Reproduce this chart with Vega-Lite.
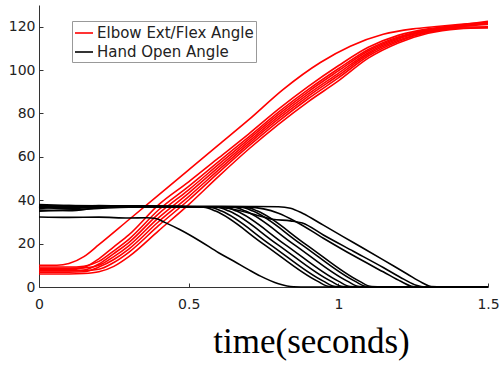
{
  "$schema": "https://vega.github.io/schema/vega-lite/v6.json",
  "width": 449,
  "height": 282,
  "autosize": "none",
  "padding": {"left": 39, "top": 5, "right": 12, "bottom": 82},
  "background": "white",
  "config": {
    "view": {"stroke": null},
    "axis": {"grid": false, "domainColor": "#333", "tickColor": "#333", "labelColor": "#222", "labelFont": "DejaVu Sans", "labelFontSize": 14, "tickSize": -4, "labelFlush": false, "labelOverlap": false},
    "legend": {"orient": "none", "legendX": 33, "legendY": 16, "strokeColor": "#999", "fillColor": "white", "padding": 2, "symbolType": "stroke", "symbolSize": 324, "symbolStrokeWidth": 1.6, "labelFontSize": 15, "labelFont": "DejaVu Sans", "labelColor": "#222", "rowPadding": 1, "labelOffset": 3}
  },
  "data": {"values": [
    {"s":"Elbow Ext/Flex Angle","c":"L","t":0,"v":10},{"s":"Elbow Ext/Flex Angle","c":"L","t":0.06,"v":10},{"s":"Elbow Ext/Flex Angle","c":"L","t":0.1,"v":10.8},{"s":"Elbow Ext/Flex Angle","c":"L","t":0.15,"v":14},{"s":"Elbow Ext/Flex Angle","c":"L","t":0.2,"v":19.5},{"s":"Elbow Ext/Flex Angle","c":"L","t":0.3,"v":31},{"s":"Elbow Ext/Flex Angle","c":"L","t":0.4,"v":42.5},{"s":"Elbow Ext/Flex Angle","c":"L","t":0.5,"v":54},{"s":"Elbow Ext/Flex Angle","c":"L","t":0.6,"v":65.5},{"s":"Elbow Ext/Flex Angle","c":"L","t":0.7,"v":77},{"s":"Elbow Ext/Flex Angle","c":"L","t":0.815,"v":91},{"s":"Elbow Ext/Flex Angle","c":"L","t":0.94,"v":103.5},{"s":"Elbow Ext/Flex Angle","c":"L","t":1.04,"v":111},{"s":"Elbow Ext/Flex Angle","c":"L","t":1.15,"v":116.5},{"s":"Elbow Ext/Flex Angle","c":"L","t":1.25,"v":119},{"s":"Elbow Ext/Flex Angle","c":"L","t":1.32,"v":120},{"s":"Elbow Ext/Flex Angle","c":"L","t":1.4,"v":121},{"s":"Elbow Ext/Flex Angle","c":"L","t":1.5,"v":122},

    {"s":"Elbow Ext/Flex Angle","c":"F","t":0,"v":8},{"s":"Elbow Ext/Flex Angle","c":"F","t":0.1,"v":8},{"s":"Elbow Ext/Flex Angle","c":"F","t":0.15,"v":9},{"s":"Elbow Ext/Flex Angle","c":"F","t":0.2,"v":13},{"s":"Elbow Ext/Flex Angle","c":"F","t":0.25,"v":18.5},{"s":"Elbow Ext/Flex Angle","c":"F","t":0.3,"v":24},{"s":"Elbow Ext/Flex Angle","c":"F","t":0.4,"v":38},{"s":"Elbow Ext/Flex Angle","c":"F","t":0.5,"v":48.5},{"s":"Elbow Ext/Flex Angle","c":"F","t":0.6,"v":59.5},{"s":"Elbow Ext/Flex Angle","c":"F","t":0.7,"v":70.5},{"s":"Elbow Ext/Flex Angle","c":"F","t":0.8,"v":82},{"s":"Elbow Ext/Flex Angle","c":"F","t":0.9,"v":92.5},{"s":"Elbow Ext/Flex Angle","c":"F","t":1.0,"v":102},{"s":"Elbow Ext/Flex Angle","c":"F","t":1.1,"v":110.5},{"s":"Elbow Ext/Flex Angle","c":"F","t":1.2,"v":116},{"s":"Elbow Ext/Flex Angle","c":"F","t":1.3,"v":119},{"s":"Elbow Ext/Flex Angle","c":"F","t":1.4,"v":120.5},{"s":"Elbow Ext/Flex Angle","c":"F","t":1.5,"v":121.5},

    {"s":"Elbow Ext/Flex Angle","c":"c1","t":0,"v":9.2},{"s":"Elbow Ext/Flex Angle","c":"c1","t":0.1,"v":9.2},{"s":"Elbow Ext/Flex Angle","c":"c1","t":0.15,"v":9.6},{"s":"Elbow Ext/Flex Angle","c":"c1","t":0.2,"v":11.8},{"s":"Elbow Ext/Flex Angle","c":"c1","t":0.25,"v":16.7},{"s":"Elbow Ext/Flex Angle","c":"c1","t":0.3,"v":22},{"s":"Elbow Ext/Flex Angle","c":"c1","t":0.4,"v":35.6},{"s":"Elbow Ext/Flex Angle","c":"c1","t":0.5,"v":46.4},{"s":"Elbow Ext/Flex Angle","c":"c1","t":0.6,"v":57.8},{"s":"Elbow Ext/Flex Angle","c":"c1","t":0.7,"v":69.1},{"s":"Elbow Ext/Flex Angle","c":"c1","t":0.8,"v":80.6},{"s":"Elbow Ext/Flex Angle","c":"c1","t":0.9,"v":91.1},{"s":"Elbow Ext/Flex Angle","c":"c1","t":1.0,"v":100.6},{"s":"Elbow Ext/Flex Angle","c":"c1","t":1.1,"v":109.5},{"s":"Elbow Ext/Flex Angle","c":"c1","t":1.2,"v":115.3},{"s":"Elbow Ext/Flex Angle","c":"c1","t":1.3,"v":118.6},{"s":"Elbow Ext/Flex Angle","c":"c1","t":1.4,"v":120.6},{"s":"Elbow Ext/Flex Angle","c":"c1","t":1.5,"v":122.5},

    {"s":"Elbow Ext/Flex Angle","c":"c2","t":0,"v":7.4},{"s":"Elbow Ext/Flex Angle","c":"c2","t":0.1,"v":7.4},{"s":"Elbow Ext/Flex Angle","c":"c2","t":0.15,"v":7.8},{"s":"Elbow Ext/Flex Angle","c":"c2","t":0.2,"v":10.6},{"s":"Elbow Ext/Flex Angle","c":"c2","t":0.25,"v":15.4},{"s":"Elbow Ext/Flex Angle","c":"c2","t":0.3,"v":20.5},{"s":"Elbow Ext/Flex Angle","c":"c2","t":0.4,"v":33.8},{"s":"Elbow Ext/Flex Angle","c":"c2","t":0.5,"v":44.8},{"s":"Elbow Ext/Flex Angle","c":"c2","t":0.6,"v":56.5},{"s":"Elbow Ext/Flex Angle","c":"c2","t":0.7,"v":68.1},{"s":"Elbow Ext/Flex Angle","c":"c2","t":0.8,"v":79.6},{"s":"Elbow Ext/Flex Angle","c":"c2","t":0.9,"v":90.1},{"s":"Elbow Ext/Flex Angle","c":"c2","t":1.0,"v":99.6},{"s":"Elbow Ext/Flex Angle","c":"c2","t":1.1,"v":108.8},{"s":"Elbow Ext/Flex Angle","c":"c2","t":1.2,"v":114.8},{"s":"Elbow Ext/Flex Angle","c":"c2","t":1.3,"v":118.3},{"s":"Elbow Ext/Flex Angle","c":"c2","t":1.4,"v":120},{"s":"Elbow Ext/Flex Angle","c":"c2","t":1.5,"v":121},

    {"s":"Elbow Ext/Flex Angle","c":"c3","t":0,"v":8.6},{"s":"Elbow Ext/Flex Angle","c":"c3","t":0.1,"v":8.6},{"s":"Elbow Ext/Flex Angle","c":"c3","t":0.15,"v":8.8},{"s":"Elbow Ext/Flex Angle","c":"c3","t":0.2,"v":10},{"s":"Elbow Ext/Flex Angle","c":"c3","t":0.25,"v":14},{"s":"Elbow Ext/Flex Angle","c":"c3","t":0.3,"v":19},{"s":"Elbow Ext/Flex Angle","c":"c3","t":0.4,"v":32},{"s":"Elbow Ext/Flex Angle","c":"c3","t":0.5,"v":43.3},{"s":"Elbow Ext/Flex Angle","c":"c3","t":0.6,"v":55.3},{"s":"Elbow Ext/Flex Angle","c":"c3","t":0.7,"v":67},{"s":"Elbow Ext/Flex Angle","c":"c3","t":0.8,"v":78.5},{"s":"Elbow Ext/Flex Angle","c":"c3","t":0.9,"v":89},{"s":"Elbow Ext/Flex Angle","c":"c3","t":1.0,"v":98.5},{"s":"Elbow Ext/Flex Angle","c":"c3","t":1.1,"v":108},{"s":"Elbow Ext/Flex Angle","c":"c3","t":1.2,"v":114.3},{"s":"Elbow Ext/Flex Angle","c":"c3","t":1.3,"v":118},{"s":"Elbow Ext/Flex Angle","c":"c3","t":1.4,"v":119.8},{"s":"Elbow Ext/Flex Angle","c":"c3","t":1.5,"v":120},

    {"s":"Elbow Ext/Flex Angle","c":"c4","t":0,"v":6.8},{"s":"Elbow Ext/Flex Angle","c":"c4","t":0.1,"v":6.8},{"s":"Elbow Ext/Flex Angle","c":"c4","t":0.15,"v":7},{"s":"Elbow Ext/Flex Angle","c":"c4","t":0.2,"v":9.2},{"s":"Elbow Ext/Flex Angle","c":"c4","t":0.25,"v":12.7},{"s":"Elbow Ext/Flex Angle","c":"c4","t":0.3,"v":17.5},{"s":"Elbow Ext/Flex Angle","c":"c4","t":0.4,"v":30.2},{"s":"Elbow Ext/Flex Angle","c":"c4","t":0.5,"v":41.7},{"s":"Elbow Ext/Flex Angle","c":"c4","t":0.6,"v":54},{"s":"Elbow Ext/Flex Angle","c":"c4","t":0.7,"v":66},{"s":"Elbow Ext/Flex Angle","c":"c4","t":0.8,"v":77.5},{"s":"Elbow Ext/Flex Angle","c":"c4","t":0.9,"v":88},{"s":"Elbow Ext/Flex Angle","c":"c4","t":1.0,"v":97.5},{"s":"Elbow Ext/Flex Angle","c":"c4","t":1.1,"v":107.3},{"s":"Elbow Ext/Flex Angle","c":"c4","t":1.2,"v":113.7},{"s":"Elbow Ext/Flex Angle","c":"c4","t":1.3,"v":117.7},{"s":"Elbow Ext/Flex Angle","c":"c4","t":1.4,"v":120},{"s":"Elbow Ext/Flex Angle","c":"c4","t":1.5,"v":121.5},

    {"s":"Elbow Ext/Flex Angle","c":"c5","t":0,"v":7.6},{"s":"Elbow Ext/Flex Angle","c":"c5","t":0.1,"v":7.6},{"s":"Elbow Ext/Flex Angle","c":"c5","t":0.15,"v":7.6},{"s":"Elbow Ext/Flex Angle","c":"c5","t":0.2,"v":8.2},{"s":"Elbow Ext/Flex Angle","c":"c5","t":0.25,"v":11.3},{"s":"Elbow Ext/Flex Angle","c":"c5","t":0.3,"v":16},{"s":"Elbow Ext/Flex Angle","c":"c5","t":0.4,"v":28.4},{"s":"Elbow Ext/Flex Angle","c":"c5","t":0.5,"v":40.1},{"s":"Elbow Ext/Flex Angle","c":"c5","t":0.6,"v":52.7},{"s":"Elbow Ext/Flex Angle","c":"c5","t":0.7,"v":64.9},{"s":"Elbow Ext/Flex Angle","c":"c5","t":0.8,"v":76.4},{"s":"Elbow Ext/Flex Angle","c":"c5","t":0.9,"v":86.9},{"s":"Elbow Ext/Flex Angle","c":"c5","t":1.0,"v":96.4},{"s":"Elbow Ext/Flex Angle","c":"c5","t":1.1,"v":106.5},{"s":"Elbow Ext/Flex Angle","c":"c5","t":1.2,"v":113.2},{"s":"Elbow Ext/Flex Angle","c":"c5","t":1.3,"v":117.4},{"s":"Elbow Ext/Flex Angle","c":"c5","t":1.4,"v":119.3},{"s":"Elbow Ext/Flex Angle","c":"c5","t":1.5,"v":119.5},

    {"s":"Elbow Ext/Flex Angle","c":"B","t":0,"v":6},{"s":"Elbow Ext/Flex Angle","c":"B","t":0.1,"v":6},{"s":"Elbow Ext/Flex Angle","c":"B","t":0.15,"v":6.2},{"s":"Elbow Ext/Flex Angle","c":"B","t":0.2,"v":7},{"s":"Elbow Ext/Flex Angle","c":"B","t":0.25,"v":9.5},{"s":"Elbow Ext/Flex Angle","c":"B","t":0.3,"v":14},{"s":"Elbow Ext/Flex Angle","c":"B","t":0.4,"v":26},{"s":"Elbow Ext/Flex Angle","c":"B","t":0.5,"v":38},{"s":"Elbow Ext/Flex Angle","c":"B","t":0.6,"v":51},{"s":"Elbow Ext/Flex Angle","c":"B","t":0.7,"v":63.5},{"s":"Elbow Ext/Flex Angle","c":"B","t":0.8,"v":75},{"s":"Elbow Ext/Flex Angle","c":"B","t":0.9,"v":85.5},{"s":"Elbow Ext/Flex Angle","c":"B","t":1.0,"v":95},{"s":"Elbow Ext/Flex Angle","c":"B","t":1.1,"v":105.5},{"s":"Elbow Ext/Flex Angle","c":"B","t":1.2,"v":112.5},{"s":"Elbow Ext/Flex Angle","c":"B","t":1.3,"v":117},{"s":"Elbow Ext/Flex Angle","c":"B","t":1.4,"v":119},{"s":"Elbow Ext/Flex Angle","c":"B","t":1.5,"v":119.5},

    {"s":"Hand Open Angle","c":"K0","t":0,"v":32.3},{"s":"Hand Open Angle","c":"K0","t":0.1,"v":32.1},{"s":"Hand Open Angle","c":"K0","t":0.2,"v":32.2},{"s":"Hand Open Angle","c":"K0","t":0.3,"v":31.8},{"s":"Hand Open Angle","c":"K0","t":0.36,"v":31.9},{"s":"Hand Open Angle","c":"K0","t":0.39,"v":31.6},{"s":"Hand Open Angle","c":"K0","t":0.42,"v":29.8},{"s":"Hand Open Angle","c":"K0","t":0.47,"v":26.5},{"s":"Hand Open Angle","c":"K0","t":0.54,"v":21},{"s":"Hand Open Angle","c":"K0","t":0.6,"v":15.8},{"s":"Hand Open Angle","c":"K0","t":0.65,"v":12},{"s":"Hand Open Angle","c":"K0","t":0.7,"v":8},{"s":"Hand Open Angle","c":"K0","t":0.74,"v":5},{"s":"Hand Open Angle","c":"K0","t":0.8,"v":1.5},{"s":"Hand Open Angle","c":"K0","t":0.85,"v":0.1},{"s":"Hand Open Angle","c":"K0","t":0.9,"v":0},{"s":"Hand Open Angle","c":"K0","t":1.5,"v":0},

    {"s":"Hand Open Angle","c":"b1","t":0,"v":37.5},{"s":"Hand Open Angle","c":"b1","t":0.1,"v":36.5},{"s":"Hand Open Angle","c":"b1","t":0.2,"v":37},{"s":"Hand Open Angle","c":"b1","t":0.3,"v":37.3},{"s":"Hand Open Angle","c":"b1","t":0.45,"v":37},{"s":"Hand Open Angle","c":"b1","t":0.55,"v":36.8},{"s":"Hand Open Angle","c":"b1","t":0.59,"v":35},{"s":"Hand Open Angle","c":"b1","t":0.75,"v":19.8},{"s":"Hand Open Angle","c":"b1","t":0.93,"v":2.7},{"s":"Hand Open Angle","c":"b1","t":0.97,"v":0.2},{"s":"Hand Open Angle","c":"b1","t":1.01,"v":0},{"s":"Hand Open Angle","c":"b1","t":1.5,"v":0},

    {"s":"Hand Open Angle","c":"b2","t":0,"v":35.5},{"s":"Hand Open Angle","c":"b2","t":0.1,"v":35.2},{"s":"Hand Open Angle","c":"b2","t":0.2,"v":36.5},{"s":"Hand Open Angle","c":"b2","t":0.3,"v":37},{"s":"Hand Open Angle","c":"b2","t":0.45,"v":37.1},{"s":"Hand Open Angle","c":"b2","t":0.57,"v":36.8},{"s":"Hand Open Angle","c":"b2","t":0.61,"v":35},{"s":"Hand Open Angle","c":"b2","t":0.77,"v":19.8},{"s":"Hand Open Angle","c":"b2","t":0.95,"v":2.7},{"s":"Hand Open Angle","c":"b2","t":0.99,"v":0.2},{"s":"Hand Open Angle","c":"b2","t":1.03,"v":0},{"s":"Hand Open Angle","c":"b2","t":1.5,"v":0},

    {"s":"Hand Open Angle","c":"b3","t":0,"v":36.5},{"s":"Hand Open Angle","c":"b3","t":0.1,"v":37.5},{"s":"Hand Open Angle","c":"b3","t":0.2,"v":36.8},{"s":"Hand Open Angle","c":"b3","t":0.3,"v":37.2},{"s":"Hand Open Angle","c":"b3","t":0.45,"v":37},{"s":"Hand Open Angle","c":"b3","t":0.595,"v":36.8},{"s":"Hand Open Angle","c":"b3","t":0.635,"v":35},{"s":"Hand Open Angle","c":"b3","t":0.795,"v":19.8},{"s":"Hand Open Angle","c":"b3","t":0.975,"v":2.7},{"s":"Hand Open Angle","c":"b3","t":1.015,"v":0.2},{"s":"Hand Open Angle","c":"b3","t":1.055,"v":0},{"s":"Hand Open Angle","c":"b3","t":1.5,"v":0},

    {"s":"Hand Open Angle","c":"b4","t":0,"v":37},{"s":"Hand Open Angle","c":"b4","t":0.1,"v":36},{"s":"Hand Open Angle","c":"b4","t":0.2,"v":37.2},{"s":"Hand Open Angle","c":"b4","t":0.3,"v":37},{"s":"Hand Open Angle","c":"b4","t":0.45,"v":37.1},{"s":"Hand Open Angle","c":"b4","t":0.62,"v":36.8},{"s":"Hand Open Angle","c":"b4","t":0.66,"v":35},{"s":"Hand Open Angle","c":"b4","t":0.82,"v":19.8},{"s":"Hand Open Angle","c":"b4","t":1.0,"v":2.7},{"s":"Hand Open Angle","c":"b4","t":1.04,"v":0.2},{"s":"Hand Open Angle","c":"b4","t":1.08,"v":0},{"s":"Hand Open Angle","c":"b4","t":1.5,"v":0},

    {"s":"Hand Open Angle","c":"b5","t":0,"v":38},{"s":"Hand Open Angle","c":"b5","t":0.1,"v":37.6},{"s":"Hand Open Angle","c":"b5","t":0.2,"v":37.4},{"s":"Hand Open Angle","c":"b5","t":0.3,"v":37.3},{"s":"Hand Open Angle","c":"b5","t":0.45,"v":37},{"s":"Hand Open Angle","c":"b5","t":0.65,"v":36.8},{"s":"Hand Open Angle","c":"b5","t":0.69,"v":35},{"s":"Hand Open Angle","c":"b5","t":0.85,"v":19.8},{"s":"Hand Open Angle","c":"b5","t":1.03,"v":2.7},{"s":"Hand Open Angle","c":"b5","t":1.07,"v":0.2},{"s":"Hand Open Angle","c":"b5","t":1.11,"v":0},{"s":"Hand Open Angle","c":"b5","t":1.5,"v":0},

    {"s":"Hand Open Angle","c":"b6","t":0,"v":35},{"s":"Hand Open Angle","c":"b6","t":0.1,"v":35.5},{"s":"Hand Open Angle","c":"b6","t":0.2,"v":36.2},{"s":"Hand Open Angle","c":"b6","t":0.3,"v":36.8},{"s":"Hand Open Angle","c":"b6","t":0.45,"v":37},{"s":"Hand Open Angle","c":"b6","t":0.675,"v":36.8},{"s":"Hand Open Angle","c":"b6","t":0.715,"v":35},{"s":"Hand Open Angle","c":"b6","t":0.875,"v":19.8},{"s":"Hand Open Angle","c":"b6","t":1.055,"v":2.7},{"s":"Hand Open Angle","c":"b6","t":1.095,"v":0.2},{"s":"Hand Open Angle","c":"b6","t":1.135,"v":0},{"s":"Hand Open Angle","c":"b6","t":1.5,"v":0},

    {"s":"Hand Open Angle","c":"b7","t":0,"v":37.2},{"s":"Hand Open Angle","c":"b7","t":0.1,"v":37},{"s":"Hand Open Angle","c":"b7","t":0.2,"v":37.5},{"s":"Hand Open Angle","c":"b7","t":0.3,"v":37.2},{"s":"Hand Open Angle","c":"b7","t":0.45,"v":36.9},{"s":"Hand Open Angle","c":"b7","t":0.69,"v":36.8},{"s":"Hand Open Angle","c":"b7","t":0.73,"v":35},{"s":"Hand Open Angle","c":"b7","t":0.89,"v":19.8},{"s":"Hand Open Angle","c":"b7","t":1.07,"v":2.7},{"s":"Hand Open Angle","c":"b7","t":1.11,"v":0.2},{"s":"Hand Open Angle","c":"b7","t":1.15,"v":0},{"s":"Hand Open Angle","c":"b7","t":1.5,"v":0},

    {"s":"Hand Open Angle","c":"U1","t":0,"v":36.8},{"s":"Hand Open Angle","c":"U1","t":0.1,"v":37},{"s":"Hand Open Angle","c":"U1","t":0.2,"v":37.2},{"s":"Hand Open Angle","c":"U1","t":0.3,"v":37.3},{"s":"Hand Open Angle","c":"U1","t":0.5,"v":37.2},{"s":"Hand Open Angle","c":"U1","t":0.7,"v":37.1},{"s":"Hand Open Angle","c":"U1","t":0.8,"v":37},{"s":"Hand Open Angle","c":"U1","t":0.84,"v":36.3},{"s":"Hand Open Angle","c":"U1","t":0.88,"v":34},{"s":"Hand Open Angle","c":"U1","t":0.95,"v":28.5},{"s":"Hand Open Angle","c":"U1","t":1.05,"v":20.5},{"s":"Hand Open Angle","c":"U1","t":1.15,"v":12.5},{"s":"Hand Open Angle","c":"U1","t":1.23,"v":6},{"s":"Hand Open Angle","c":"U1","t":1.28,"v":2},{"s":"Hand Open Angle","c":"U1","t":1.31,"v":0.2},{"s":"Hand Open Angle","c":"U1","t":1.35,"v":0},{"s":"Hand Open Angle","c":"U1","t":1.5,"v":0},

    {"s":"Hand Open Angle","c":"U2","t":0,"v":36.2},{"s":"Hand Open Angle","c":"U2","t":0.1,"v":36.8},{"s":"Hand Open Angle","c":"U2","t":0.2,"v":37},{"s":"Hand Open Angle","c":"U2","t":0.3,"v":37.2},{"s":"Hand Open Angle","c":"U2","t":0.5,"v":37},{"s":"Hand Open Angle","c":"U2","t":0.6,"v":36.8},{"s":"Hand Open Angle","c":"U2","t":0.66,"v":35.5},{"s":"Hand Open Angle","c":"U2","t":0.73,"v":33},{"s":"Hand Open Angle","c":"U2","t":0.78,"v":31.2},{"s":"Hand Open Angle","c":"U2","t":0.84,"v":30.5},{"s":"Hand Open Angle","c":"U2","t":0.88,"v":29.5},{"s":"Hand Open Angle","c":"U2","t":0.95,"v":24},{"s":"Hand Open Angle","c":"U2","t":1.05,"v":16.5},{"s":"Hand Open Angle","c":"U2","t":1.15,"v":9},{"s":"Hand Open Angle","c":"U2","t":1.22,"v":3.5},{"s":"Hand Open Angle","c":"U2","t":1.26,"v":0.8},{"s":"Hand Open Angle","c":"U2","t":1.29,"v":0},{"s":"Hand Open Angle","c":"U2","t":1.5,"v":0},

    {"s":"Hand Open Angle","c":"U3","t":0,"v":37.5},{"s":"Hand Open Angle","c":"U3","t":0.1,"v":37.2},{"s":"Hand Open Angle","c":"U3","t":0.2,"v":37},{"s":"Hand Open Angle","c":"U3","t":0.3,"v":37.2},{"s":"Hand Open Angle","c":"U3","t":0.5,"v":37},{"s":"Hand Open Angle","c":"U3","t":0.7,"v":36.8},{"s":"Hand Open Angle","c":"U3","t":0.75,"v":36},{"s":"Hand Open Angle","c":"U3","t":0.8,"v":34},{"s":"Hand Open Angle","c":"U3","t":0.86,"v":30},{"s":"Hand Open Angle","c":"U3","t":0.95,"v":22.5},{"s":"Hand Open Angle","c":"U3","t":1.05,"v":14.5},{"s":"Hand Open Angle","c":"U3","t":1.15,"v":7},{"s":"Hand Open Angle","c":"U3","t":1.21,"v":2.5},{"s":"Hand Open Angle","c":"U3","t":1.25,"v":0.2},{"s":"Hand Open Angle","c":"U3","t":1.28,"v":0},{"s":"Hand Open Angle","c":"U3","t":1.5,"v":0}
  ]},
  "encoding": {
    "x": {"field": "t", "type": "quantitative", "scale": {"domain": [0, 1.5], "nice": false, "zero": false},
      "axis": {"values": [0, 0.5, 1, 1.5], "format": "~g", "labelPadding": 14, "title": "time(seconds)", "titleFont": "Liberation Serif", "titleFontSize": 35, "titleFontWeight": "normal", "titleColor": "#000", "titleX": 272, "titleY": 65, "titleAlign": "center", "titleBaseline": "alphabetic"}},
    "y": {"field": "v", "type": "quantitative", "scale": {"domain": [0, 130], "nice": false},
      "axis": {"values": [0, 20, 40, 60, 80, 100, 120], "title": null, "labelPadding": 8}},
    "color": {"field": "s", "type": "nominal", "scale": {"domain": ["Elbow Ext/Flex Angle", "Hand Open Angle"], "range": ["#ff0000", "#000000"]}, "legend": {"title": null}},
    "detail": {"field": "c", "type": "nominal"},
    "order": {"field": "t", "type": "quantitative"}
  },
  "layer": [
    {"transform": [{"filter": "datum.s === 'Elbow Ext/Flex Angle'"}], "mark": {"type": "line", "strokeWidth": 1.6, "interpolate": "monotone"}},
    {"transform": [{"filter": "datum.s === 'Hand Open Angle'"}], "mark": {"type": "line", "strokeWidth": 1.6, "interpolate": "monotone"}}
  ]
}
